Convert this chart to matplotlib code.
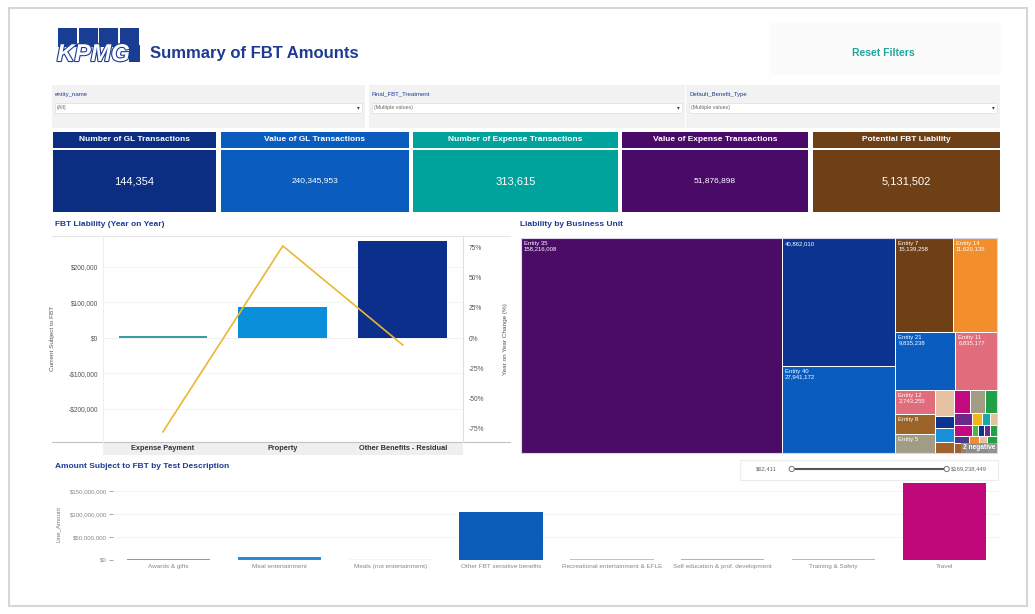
import matplotlib
matplotlib.use("Agg")
import matplotlib.pyplot as plt
import matplotlib.patches as mpatches
import matplotlib.patheffects as pe
from matplotlib.ticker import FuncFormatter

plt.rcParams['font.family'] = ['Liberation Sans', 'DejaVu Sans']

# ---- datos ----
kpi_titles = ["Number of GL Transactions", "Value of GL Transactions",
              "Number of Expense Transactions", "Value of Expense Transactions",
              "Potential FBT Liability"]
kpi_values = ["144,354", "240,345,953", "313,615", "51,876,898", "5,131,502"]

filter_names = ["entity_name", "Final_FBT_Treatment", "Default_Benefit_Type"]
filter_values = ["(All)", "(Multiple values)", "(Multiple values)"]

fbt_categories = ["Expense Payment", "Property", "Other Benefits - Residual"]
fbt_current = [4500, 86500, 273000]
fbt_yoy = [-77.6, 76.2, -5.8]

unit_names = ["Entity 35", "", "Entity 40", "Entity 7", "Entity 14", "Entity 21",
              "Entity 11", "Entity 12", "Entity 8", "Entity 5",
              "", "", "", "", "", "", "", "", "", "", "", "", "", "", "", "",
              "", "", "", "", "", "", "", ""]
unit_values = [158216008, 40862010, 27941172, 15139258, 11620135, 9835238,
               6835177, 2743255, 2170000, 2100000,
               1390000, 630000, 760000, 580000,
               1130000, 950000, 840000,
               610000, 330000, 280000, 240000,
               560000, 190000, 190000, 190000, 210000,
               300000, 200000, 150000, 200000,
               350000, 300000, 280000, 250000]
unit_show_value = [True, True, True, True, True, True, True, True, False, False] + [False] * 24
unit_colors = ["#4b0c66", "#0b338f", "#0a5cbf", "#6f3f16", "#f28e2b", "#0a5cbf",
               "#e06c7c", "#e06c7c", "#9c6428", "#a39c84",
               "#e6c2a3", "#0b338f", "#1a90db", "#a0622a",
               "#c20a7e", "#a39c84", "#22a046",
               "#6a2a8a", "#f2b418", "#18a8a8", "#e6c2a3",
               "#c20a7e", "#48b848", "#0b338f", "#6a2a8a", "#22a046",
               "#4b3a8a", "#f28e2b", "#e6c2a3", "#22a046",
               "#a0622a", "#a39c84", "#9a9a9a", "#c8c8c8"]
# filas del treemap: (orientacion, cantidad de elementos)
unit_rows = [("v", 1), ("v", 2), ("h", 2), ("h", 2), ("v", 3), ("v", 4),
             ("h", 3), ("h", 4), ("h", 5), ("h", 4), ("h", 4)]

test_categories = ["Awards & gifts", "Meal entertainment", "Meals (not entertainment)",
                   "Other FBT sensitive benefits", "Recreational entertainment & EFLE",
                   "Self education & prof. development", "Training & Safety", "Travel"]
test_amounts = [2000000, 4500000, 62411, 105000000, 1200000, 1800000, 1000000, 169238449]
test_colors = ["#8a8fd8", "#2a8ad8", "#f4f4f4", "#0a5cb8", "#90d8d8", "#e8b040",
               "#98d088", "#c0087a"]
slider_min = min(test_amounts)
slider_max = max(test_amounts)

# ---- estilos ----
navy = "#1f3a93"
kpi_colors = ["#0b2d82", "#0a5dbf", "#00a39b", "#4a0b68", "#6f3f16"]
kpi_x = [(52.7, 215.7), (220.7, 409.3), (413.3, 617.7), (621.7, 808.3), (812.7, 1000)]
kpi_sizes = [8, 6, 8, 6, 8]
filter_x = [(52, 365), (369, 685), (686, 1000)]

W, H = 1035, 614
fig = plt.figure(figsize=(10.35, 6.14), dpi=100)


def box(x0, y0, x1, y1):
    return [x0 / W, 1 - y1 / H, (x1 - x0) / W, (y1 - y0) / H]


def money(v, _=None):
    return ("-$" if v < 0 else "$") + f"{abs(v):,.0f}"


bg = fig.add_axes([0, 0, 1, 1])
bg.set_xlim(0, W)
bg.set_ylim(H, 0)
bg.axis("off")

# marco
bg.add_patch(mpatches.Rectangle((9, 8), 1018, 598, fill=False, ec="#d6d6d6", lw=1.5))
bg.add_patch(mpatches.Rectangle((770, 23), 231, 52, fc="#fbfbfb", ec="none"))

# logo KPMG
for i in range(4):
    bg.add_patch(mpatches.Rectangle((58 + i * 20.5, 28), 19, 19, fc="#1a3d94", ec="none"))
bg.add_patch(mpatches.Rectangle((129, 45), 10.5, 17, fc="#1a3d94", ec="none"))
bg.text(57, 54.5, "KPMG", fontsize=17.5, fontstyle="italic", fontweight="bold", color="white",
        va="center", ha="left",
        path_effects=[pe.Stroke(linewidth=1.6, foreground="#1a3d94"), pe.Normal()])
bg.text(150, 53.5, "Summary of FBT Amounts", fontsize=12, fontweight="bold", color=navy,
        va="center", ha="left")
bg.text(883, 53.5, "Reset Filters", fontsize=7.5, fontweight="bold", color="#20a59a",
        va="center", ha="center")

# filtros
for (x0, x1), name, val in zip(filter_x, filter_names, filter_values):
    bg.add_patch(mpatches.Rectangle((x0, 85), x1 - x0, 43, fc="#f2f2f2", ec="none"))
    bg.text(x0 + 3, 94.3, name, fontsize=4.3, color=navy, va="center", ha="left")
    bg.add_patch(mpatches.Rectangle((x0 + 3, 102.5), x1 - x0 - 6, 10, fc="white",
                                    ec="#e2e2e2", lw=0.6))
    bg.text(x0 + 5, 107.5, val, fontsize=3.8, color="#666666", va="center", ha="left")
    bg.text(x1 - 7, 107.5, "▾", fontsize=4, color="#444444", va="center", ha="center")

# tarjetas KPI
for (x0, x1), t, v, c, s in zip(kpi_x, kpi_titles, kpi_values, kpi_colors, kpi_sizes):
    bg.add_patch(mpatches.Rectangle((x0, 131.7), x1 - x0, 16.3, fc=c, ec="none"))
    bg.add_patch(mpatches.Rectangle((x0, 149.5), x1 - x0, 62.8, fc=c, ec="none"))
    bg.text((x0 + x1) / 2, 139.8, t, fontsize=6, fontweight="bold", color="white",
            va="center", ha="center")
    bg.text((x0 + x1) / 2, 181, v, fontsize=s, color="white", va="center", ha="center")

# titulos de graficos
bg.text(55, 225, "FBT Liability (Year on Year)", fontsize=6, fontweight="bold",
        color=navy, va="center")
bg.text(520, 224.5, "Liability by Business Unit", fontsize=6, fontweight="bold",
        color=navy, va="center")
bg.text(55, 466.5, "Amount Subject to FBT by Test Description", fontsize=6,
        fontweight="bold", color=navy, va="center")
bg.plot([52, 510], [236, 236], color="#e6e6e6", lw=0.8)
bg.plot([52, 510], [441.7, 441.7], color="#c4c4c4", lw=0.8)
bg.add_patch(mpatches.Rectangle((103, 441.7), 359.7, 13.3, fc="#efefef", ec="none"))

# ---- FBT Liability (Year on Year) ----
ax1 = fig.add_axes(box(103, 236, 462.7, 441.7))
ax1.patch.set_alpha(0)
ax1.bar(range(3), fbt_current, width=0.74, color=["#3a9c9c", "#0a8fda", "#0b2f8a"])
ax1.set_xlim(-0.5, 2.5)
ax1.set_ylim(-292000, 287000)
ax1.set_yticks([-200000, -100000, 0, 100000, 200000])
ax1.yaxis.set_major_formatter(FuncFormatter(money))
ax1.set_xticks(range(3), fbt_categories, fontweight="bold")
ax1.tick_params(axis="x", length=0, pad=2.5, labelsize=5.3, labelcolor="#333333")
ax1.tick_params(axis="y", length=0, pad=3.5, labelsize=4.8, labelcolor="#555555")
ax1.grid(axis="y", color="#f3f3f3", lw=0.6)
ax1.axhline(0, color="#dddddd", lw=0.6, zorder=0)
ax1.set_axisbelow(True)
for sp in ax1.spines.values():
    sp.set_visible(False)
ax1.spines["left"].set_visible(True)
ax1.spines["left"].set_color("#eeeeee")
ax1.set_ylabel("Current Subject to FBT", fontsize=4.6, color="#555555")
ax1.yaxis.set_label_coords(-0.133, 0.5)

ax2 = ax1.twinx()
ax2.plot(range(3), fbt_yoy, color="#e8b830", lw=1.2)
ax2.set_ylim(-85.8, 84.4)
ax2.set_yticks([-75, -50, -25, 0, 25, 50, 75])
ax2.yaxis.set_major_formatter(FuncFormatter(lambda v, _: f"{v:.0f}%"))
ax2.tick_params(axis="y", length=0, pad=4, labelsize=4.8, labelcolor="#555555")
for sp in ax2.spines.values():
    sp.set_visible(False)
ax2.spines["right"].set_visible(True)
ax2.spines["right"].set_color("#e0e0e0")
ax2.set_ylabel("Year on Year Change (%)", fontsize=4.6, color="#555555")
ax2.yaxis.set_label_coords(1.112, 0.5)

# ---- Liability by Business Unit (treemap) ----
TW, TH = 476, 214.4
axt = fig.add_axes(box(521, 238.3, 997, 452.7))
axt.set_xlim(0, TW)
axt.set_ylim(TH, 0)
axt.set_xticks([])
axt.set_yticks([])
for sp in axt.spines.values():
    sp.set_color("#ddd6ea")
    sp.set_linewidth(0.8)


def layout_rows(values, rows, x, y, w, h):
    scale = w * h / sum(values)
    rects = []
    i = 0
    for orient, n in rows:
        vals = values[i:i + n]
        i += n
        area = sum(vals) * scale
        if orient == "v":
            cw = area / h
            yy = y
            for v in vals:
                ch = v * scale / cw
                rects.append((x, yy, cw, ch))
                yy += ch
            x += cw
            w -= cw
        else:
            rh = area / w
            xx = x
            for v in vals:
                rw = v * scale / rh
                rects.append((xx, y, rw, rh))
                xx += rw
            y += rh
            h -= rh
    return rects


rects = layout_rows(unit_values, unit_rows, 0, 0, TW, TH)
for (x, y, w, h), name, val, col, show in zip(rects, unit_names, unit_values,
                                                unit_colors, unit_show_value):
    axt.add_patch(mpatches.Rectangle((x, y), w, h, fc=col, ec="white", lw=0.7))
    label = name
    if show:
        label = (name + "\n" if name else "") + f"{val:,}"
    if label:
        axt.text(x + 3, y + 3, label, fontsize=4.3, color="white", va="top", ha="left",
                 linespacing=1.1)
axt.text(TW - 2, TH - 1.5, "2 negative", fontsize=4.8, fontweight="bold", color="white",
         ha="right", va="bottom",
         bbox=dict(boxstyle="square,pad=0.25", fc="#8a8a8a", ec="none", alpha=0.85))

# ---- Amount Subject to FBT by Test Description ----
bg.add_patch(mpatches.Rectangle((740, 460), 258, 19.5, fc="white", ec="#ececec", lw=0.8))
bg.plot([791.7, 946.7], [469, 469], color="#555555", lw=1.5, solid_capstyle="butt")
for cx in (791.7, 946.7):
    bg.add_patch(mpatches.Circle((cx, 469), 2.6, fc="white", ec="#777777", lw=0.7, zorder=5))
bg.text(777, 469, money(slider_min), fontsize=4.2, color="#666666", ha="right", va="center")
bg.text(951, 469, money(slider_max), fontsize=4.2, color="#666666", ha="left", va="center")

axb = fig.add_axes(box(113, 480, 1000, 559.5))
axb.patch.set_alpha(0)
axb.bar(range(len(test_categories)), test_amounts, width=0.75, color=test_colors)
axb.set_xlim(-0.5, len(test_categories) - 0.5)
axb.set_ylim(0, 175e6)
axb.set_yticks([0, 50e6, 100e6, 150e6])
axb.yaxis.set_major_formatter(FuncFormatter(money))
axb.set_xticks(range(len(test_categories)), test_categories)
axb.tick_params(axis="x", length=0, pad=3.5, labelsize=4.6, labelcolor="#888888")
axb.tick_params(axis="y", length=3, width=0.6, color="#999999", pad=1.2, labelsize=4.4,
                labelcolor="#888888")
axb.grid(axis="y", color="#f2f2f2", lw=0.6)
axb.set_axisbelow(True)
for sp in axb.spines.values():
    sp.set_visible(False)
axb.set_ylabel("Line_Amount", fontsize=4.4, color="#777777")
axb.yaxis.set_label_coords(-0.059, 0.45)

fig.savefig("out.png", dpi=100)
